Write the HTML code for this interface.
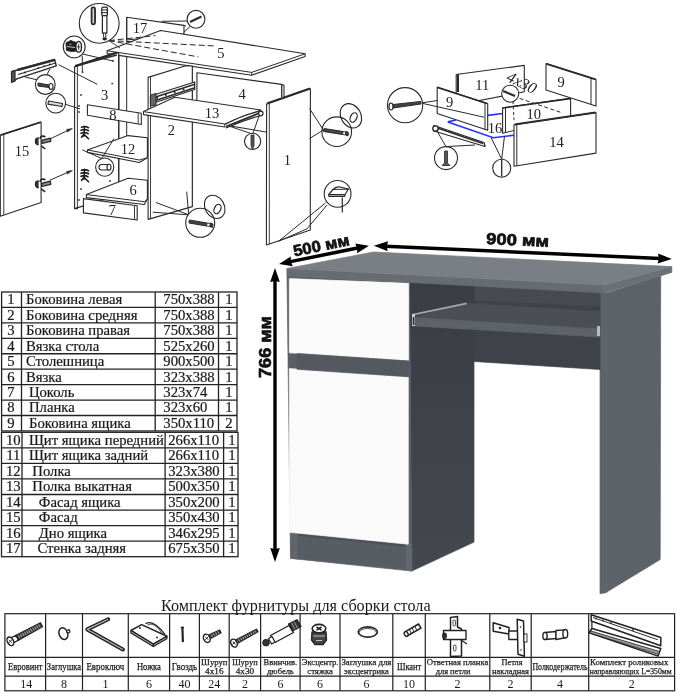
<!DOCTYPE html>
<html><head><meta charset="utf-8"><style>
html,body{margin:0;padding:0;background:#fff;width:689px;height:700px;overflow:hidden}
svg{position:absolute;left:0;top:0;display:block;will-change:transform}
</style></head><body>
<svg width="689" height="700" viewBox="0 0 689 700">
<defs><linearGradient id="gleg" x1="0" y1="0" x2="0" y2="1"><stop offset="0" stop-color="#3a3e44"/><stop offset="1" stop-color="#44484e"/></linearGradient></defs>
<rect width="689" height="700" fill="#fff"/>
<g font-family="Liberation Serif" font-size="14.7" fill="#1a1a1a" stroke="#1a1a1a" stroke-width="0.22">
<rect x="1.6" y="292" width="235.4" height="138.96000000000004" fill="none" stroke="#222" stroke-width="1.3"/>
<line x1="21.5" y1="292" x2="21.5" y2="430.96000000000004" stroke="#222" stroke-width="1.3"/>
<line x1="155.2" y1="292" x2="155.2" y2="430.96000000000004" stroke="#222" stroke-width="1.3"/>
<line x1="218.5" y1="292" x2="218.5" y2="430.96000000000004" stroke="#222" stroke-width="1.3"/>
<line x1="1.6" y1="307.44" x2="237" y2="307.44" stroke="#222" stroke-width="1.3"/>
<line x1="1.6" y1="322.88" x2="237" y2="322.88" stroke="#222" stroke-width="1.3"/>
<line x1="1.6" y1="338.32" x2="237" y2="338.32" stroke="#222" stroke-width="1.3"/>
<line x1="1.6" y1="353.76" x2="237" y2="353.76" stroke="#222" stroke-width="1.3"/>
<line x1="1.6" y1="369.20" x2="237" y2="369.20" stroke="#222" stroke-width="1.3"/>
<line x1="1.6" y1="384.64" x2="237" y2="384.64" stroke="#222" stroke-width="1.3"/>
<line x1="1.6" y1="400.08" x2="237" y2="400.08" stroke="#222" stroke-width="1.3"/>
<line x1="1.6" y1="415.52" x2="237" y2="415.52" stroke="#222" stroke-width="1.3"/>
<text x="10.8" y="304.3" text-anchor="middle">1</text>
<text x="26" y="304.3">Боковина левая</text>
<text x="163.3" y="304.3">750x388</text>
<text x="228.9" y="304.3" text-anchor="middle">1</text>
<text x="10.8" y="319.7" text-anchor="middle">2</text>
<text x="26" y="319.7">Боковина средняя</text>
<text x="163.3" y="319.7">750x388</text>
<text x="228.9" y="319.7" text-anchor="middle">1</text>
<text x="10.8" y="335.2" text-anchor="middle">3</text>
<text x="26" y="335.2">Боковина правая</text>
<text x="163.3" y="335.2">750x388</text>
<text x="228.9" y="335.2" text-anchor="middle">1</text>
<text x="10.8" y="350.6" text-anchor="middle">4</text>
<text x="26" y="350.6">Вязка стола</text>
<text x="163.3" y="350.6">525x260</text>
<text x="228.9" y="350.6" text-anchor="middle">1</text>
<text x="10.8" y="366.1" text-anchor="middle">5</text>
<text x="26" y="366.1">Столешница</text>
<text x="163.3" y="366.1">900x500</text>
<text x="228.9" y="366.1" text-anchor="middle">1</text>
<text x="10.8" y="381.5" text-anchor="middle">6</text>
<text x="26" y="381.5">Вязка</text>
<text x="163.3" y="381.5">323x388</text>
<text x="228.9" y="381.5" text-anchor="middle">1</text>
<text x="10.8" y="396.9" text-anchor="middle">7</text>
<text x="29" y="396.9">Цоколь</text>
<text x="163.3" y="396.9">323x74</text>
<text x="228.9" y="396.9" text-anchor="middle">1</text>
<text x="10.8" y="412.4" text-anchor="middle">8</text>
<text x="29" y="412.4">Планка</text>
<text x="163.3" y="412.4">323x60</text>
<text x="228.9" y="412.4" text-anchor="middle">1</text>
<text x="10.8" y="427.8" text-anchor="middle">9</text>
<text x="29" y="427.8">Боковина ящика</text>
<text x="163.3" y="427.8">350x110</text>
<text x="228.9" y="427.8" text-anchor="middle">2</text>
<rect x="1.5" y="432.3" width="236.5" height="124.40000000000003" fill="none" stroke="#222" stroke-width="1.3"/>
<line x1="22" y1="432.3" x2="22" y2="556.7" stroke="#222" stroke-width="1.3"/>
<line x1="165.1" y1="432.3" x2="165.1" y2="556.7" stroke="#222" stroke-width="1.3"/>
<line x1="223.6" y1="432.3" x2="223.6" y2="556.7" stroke="#222" stroke-width="1.3"/>
<line x1="1.5" y1="447.85" x2="238" y2="447.85" stroke="#222" stroke-width="1.3"/>
<line x1="1.5" y1="463.40" x2="238" y2="463.40" stroke="#222" stroke-width="1.3"/>
<line x1="1.5" y1="478.95" x2="238" y2="478.95" stroke="#222" stroke-width="1.3"/>
<line x1="1.5" y1="494.50" x2="238" y2="494.50" stroke="#222" stroke-width="1.3"/>
<line x1="1.5" y1="510.05" x2="238" y2="510.05" stroke="#222" stroke-width="1.3"/>
<line x1="1.5" y1="525.60" x2="238" y2="525.60" stroke="#222" stroke-width="1.3"/>
<line x1="1.5" y1="541.15" x2="238" y2="541.15" stroke="#222" stroke-width="1.3"/>
<text x="13.3" y="444.6" text-anchor="middle">10</text>
<text x="29" y="444.6">Щит ящика передний</text>
<text x="168.2" y="444.6">266x110</text>
<text x="232.0" y="444.6" text-anchor="middle">1</text>
<text x="13.3" y="460.2" text-anchor="middle">11</text>
<text x="29" y="460.2">Щит ящика задний</text>
<text x="168.2" y="460.2">266x110</text>
<text x="232.0" y="460.2" text-anchor="middle">1</text>
<text x="13.3" y="475.7" text-anchor="middle">12</text>
<text x="32.3" y="475.7">Полка</text>
<text x="168.2" y="475.7">323x380</text>
<text x="232.0" y="475.7" text-anchor="middle">1</text>
<text x="13.3" y="491.3" text-anchor="middle">13</text>
<text x="32.3" y="491.3">Полка выкатная</text>
<text x="168.2" y="491.3">500x350</text>
<text x="232.0" y="491.3" text-anchor="middle">1</text>
<text x="13.3" y="506.8" text-anchor="middle">14</text>
<text x="38.8" y="506.8">Фасад ящика</text>
<text x="168.2" y="506.8">350x200</text>
<text x="232.0" y="506.8" text-anchor="middle">1</text>
<text x="13.3" y="522.4" text-anchor="middle">15</text>
<text x="38.8" y="522.4">Фасад</text>
<text x="168.2" y="522.4">350x430</text>
<text x="232.0" y="522.4" text-anchor="middle">1</text>
<text x="13.3" y="537.9" text-anchor="middle">16</text>
<text x="38.8" y="537.9">Дно ящика</text>
<text x="168.2" y="537.9">346x295</text>
<text x="232.0" y="537.9" text-anchor="middle">1</text>
<text x="13.3" y="553.4" text-anchor="middle">17</text>
<text x="37.4" y="553.4">Стенка задняя</text>
<text x="168.2" y="553.4">675x350</text>
<text x="232.0" y="553.4" text-anchor="middle">1</text>
</g>
<g stroke="#222" stroke-width="1.2" fill="none">
<rect x="4.9" y="613.7" width="669.7" height="77.09999999999991"/>
<line x1="45.6" y1="613.7" x2="45.6" y2="690.8"/>
<line x1="82.5" y1="613.7" x2="82.5" y2="690.8"/>
<line x1="128.3" y1="613.7" x2="128.3" y2="690.8"/>
<line x1="169.6" y1="613.7" x2="169.6" y2="690.8"/>
<line x1="199.4" y1="613.7" x2="199.4" y2="690.8"/>
<line x1="229.2" y1="613.7" x2="229.2" y2="690.8"/>
<line x1="260.6" y1="613.7" x2="260.6" y2="690.8"/>
<line x1="300.1" y1="613.7" x2="300.1" y2="690.8"/>
<line x1="340" y1="613.7" x2="340" y2="690.8"/>
<line x1="392.8" y1="613.7" x2="392.8" y2="690.8"/>
<line x1="425.3" y1="613.7" x2="425.3" y2="690.8"/>
<line x1="489.8" y1="613.7" x2="489.8" y2="690.8"/>
<line x1="531.2" y1="613.7" x2="531.2" y2="690.8"/>
<line x1="588.7" y1="613.7" x2="588.7" y2="690.8"/>
<line x1="4.9" y1="657.3" x2="674.6" y2="657.3"/>
<line x1="4.9" y1="676.2" x2="674.6" y2="676.2"/>
</g>
<g font-family="Liberation Serif" fill="#1a1a1a">
<text x="25.2" y="670.2" font-size="10" text-anchor="middle" stroke="#1a1a1a" stroke-width="0.25" textLength="34.5" lengthAdjust="spacingAndGlyphs">Евровинт</text>
<text x="26.2" y="687.6" font-size="12" text-anchor="middle">14</text>
<text x="64.0" y="670.2" font-size="10" text-anchor="middle" stroke="#1a1a1a" stroke-width="0.25" textLength="34.3" lengthAdjust="spacingAndGlyphs">Заглушка</text>
<text x="64.0" y="687.6" font-size="12" text-anchor="middle">8</text>
<text x="105.4" y="670.2" font-size="10" text-anchor="middle" stroke="#1a1a1a" stroke-width="0.25" textLength="37.9" lengthAdjust="spacingAndGlyphs">Евроключ</text>
<text x="105.4" y="687.6" font-size="12" text-anchor="middle">1</text>
<text x="148.9" y="670.2" font-size="10" text-anchor="middle" stroke="#1a1a1a" stroke-width="0.25" textLength="24" lengthAdjust="spacingAndGlyphs">Ножка</text>
<text x="148.9" y="687.6" font-size="12" text-anchor="middle">6</text>
<text x="184.5" y="670.2" font-size="10" text-anchor="middle" stroke="#1a1a1a" stroke-width="0.25" textLength="25.4" lengthAdjust="spacingAndGlyphs">Гвоздь</text>
<text x="184.5" y="687.6" font-size="12" text-anchor="middle">40</text>
<text x="214.3" y="665.2" font-size="9.2" text-anchor="middle" stroke="#1a1a1a" stroke-width="0.25" textLength="26.4" lengthAdjust="spacingAndGlyphs">Шуруп</text>
<text x="214.3" y="674.3" font-size="9.2" text-anchor="middle" stroke="#1a1a1a" stroke-width="0.25">4х16</text>
<text x="214.3" y="687.6" font-size="12" text-anchor="middle">24</text>
<text x="244.9" y="665.2" font-size="9.2" text-anchor="middle" stroke="#1a1a1a" stroke-width="0.25" textLength="25.5" lengthAdjust="spacingAndGlyphs">Шуруп</text>
<text x="244.9" y="674.3" font-size="9.2" text-anchor="middle" stroke="#1a1a1a" stroke-width="0.25">4х30</text>
<text x="244.9" y="687.6" font-size="12" text-anchor="middle">2</text>
<text x="280.4" y="665.2" font-size="9.2" text-anchor="middle" stroke="#1a1a1a" stroke-width="0.25" textLength="33.6" lengthAdjust="spacingAndGlyphs">Ввинчив.</text>
<text x="280.4" y="674.3" font-size="9.2" text-anchor="middle" stroke="#1a1a1a" stroke-width="0.25" textLength="26.7" lengthAdjust="spacingAndGlyphs">дюбель</text>
<text x="280.4" y="687.6" font-size="12" text-anchor="middle">6</text>
<text x="320.1" y="665.2" font-size="9.2" text-anchor="middle" stroke="#1a1a1a" stroke-width="0.25" textLength="36.7" lengthAdjust="spacingAndGlyphs">Эксцентр.</text>
<text x="320.1" y="674.3" font-size="9.2" text-anchor="middle" stroke="#1a1a1a" stroke-width="0.25" textLength="25.6" lengthAdjust="spacingAndGlyphs">стяжка</text>
<text x="320.1" y="687.6" font-size="12" text-anchor="middle">6</text>
<text x="366.4" y="665.2" font-size="9.2" text-anchor="middle" stroke="#1a1a1a" stroke-width="0.25" textLength="50" lengthAdjust="spacingAndGlyphs">Заглушка для</text>
<text x="366.4" y="674.3" font-size="9.2" text-anchor="middle" stroke="#1a1a1a" stroke-width="0.25" textLength="44.7" lengthAdjust="spacingAndGlyphs">эксцентрика</text>
<text x="366.4" y="687.6" font-size="12" text-anchor="middle">6</text>
<text x="409.1" y="670.2" font-size="10" text-anchor="middle" stroke="#1a1a1a" stroke-width="0.25" textLength="24.4" lengthAdjust="spacingAndGlyphs">Шкант</text>
<text x="409.1" y="687.6" font-size="12" text-anchor="middle">10</text>
<text x="457.6" y="665.2" font-size="9.2" text-anchor="middle" stroke="#1a1a1a" stroke-width="0.25" textLength="61.6" lengthAdjust="spacingAndGlyphs">Ответная планка</text>
<text x="453.1" y="674.3" font-size="9.2" text-anchor="middle" stroke="#1a1a1a" stroke-width="0.25" textLength="34.9" lengthAdjust="spacingAndGlyphs">для петли</text>
<text x="457.6" y="687.6" font-size="12" text-anchor="middle">2</text>
<text x="512.0" y="665.2" font-size="9.2" text-anchor="middle" stroke="#1a1a1a" stroke-width="0.25" textLength="21" lengthAdjust="spacingAndGlyphs">Петля</text>
<text x="510.5" y="674.3" font-size="9.2" text-anchor="middle" stroke="#1a1a1a" stroke-width="0.25" textLength="37.1" lengthAdjust="spacingAndGlyphs">накладная</text>
<text x="510.5" y="687.6" font-size="12" text-anchor="middle">2</text>
<text x="560.0" y="670.2" font-size="10" text-anchor="middle" stroke="#1a1a1a" stroke-width="0.25" textLength="55.2" lengthAdjust="spacingAndGlyphs">Полкодержатель</text>
<text x="560.0" y="687.6" font-size="12" text-anchor="middle">4</text>
<text x="629.2" y="665.2" font-size="9.2" text-anchor="middle" stroke="#1a1a1a" stroke-width="0.25" textLength="78.3" lengthAdjust="spacingAndGlyphs">Комплект роликовых</text>
<text x="630.7" y="674.3" font-size="9.2" text-anchor="middle" stroke="#1a1a1a" stroke-width="0.25" textLength="81.8" lengthAdjust="spacingAndGlyphs">направляющих L=350мм</text>
<text x="631.7" y="687.6" font-size="12" text-anchor="middle">2</text>
<text x="160.9" y="610.7" font-size="16.3" textLength="269.7" lengthAdjust="spacingAndGlyphs">Комплект фурнитуры для сборки стола</text>
</g>
<polygon points="11.7,643.7 18.5,640.1 16.0,635.2 9.1,638.9" fill="#fff" stroke="#222" stroke-width="1.22" stroke-linejoin="round"/>
<polygon points="18.5,640.1 42.5,626.7 40.5,622.9 16.0,635.2" fill="#3a3a3a" stroke="#222" stroke-width="1.22" stroke-linejoin="round"/>
<line x1="20.1" y1="638.2" x2="18.4" y2="635.0" stroke="#ccc" stroke-width="0.81" stroke-linecap="butt"/>
<line x1="22.1" y1="637.1" x2="20.4" y2="633.9" stroke="#ccc" stroke-width="0.81" stroke-linecap="butt"/>
<line x1="24.2" y1="636.1" x2="22.4" y2="632.8" stroke="#ccc" stroke-width="0.81" stroke-linecap="butt"/>
<line x1="26.2" y1="635.0" x2="24.5" y2="631.8" stroke="#ccc" stroke-width="0.81" stroke-linecap="butt"/>
<line x1="28.2" y1="633.9" x2="26.5" y2="630.7" stroke="#ccc" stroke-width="0.81" stroke-linecap="butt"/>
<line x1="30.2" y1="632.9" x2="28.5" y2="629.6" stroke="#ccc" stroke-width="0.81" stroke-linecap="butt"/>
<line x1="32.3" y1="631.8" x2="30.5" y2="628.5" stroke="#ccc" stroke-width="0.81" stroke-linecap="butt"/>
<line x1="34.3" y1="630.7" x2="32.6" y2="627.5" stroke="#ccc" stroke-width="0.81" stroke-linecap="butt"/>
<line x1="36.3" y1="629.6" x2="34.6" y2="626.4" stroke="#ccc" stroke-width="0.81" stroke-linecap="butt"/>
<line x1="38.3" y1="628.6" x2="36.6" y2="625.3" stroke="#ccc" stroke-width="0.81" stroke-linecap="butt"/>
<line x1="40.3" y1="627.5" x2="38.6" y2="624.3" stroke="#ccc" stroke-width="0.81" stroke-linecap="butt"/>
<ellipse cx="10.4" cy="641.3" rx="3" ry="4.6" transform="rotate(-27.94803514599848 10.4 641.3)" fill="#fff" stroke="#222" stroke-width="1.49"/>
<line x1="8.9" y1="639.8" x2="11.9" y2="642.8" stroke="#222" stroke-width="0.94" stroke-linecap="butt"/>
<line x1="8.9" y1="642.8" x2="11.9" y2="639.8" stroke="#222" stroke-width="0.94" stroke-linecap="butt"/>
<ellipse cx="63.4" cy="633.6" rx="4.3" ry="6" transform="rotate(-20 63.4 633.6)" fill="#fff" stroke="#222" stroke-width="1.49"/>
<polygon points="66.5,631.0 69.0,629.5 70.0,632.0 67.5,633.5" fill="#fff" stroke="#222" stroke-width="1.22" stroke-linejoin="round"/>
<polyline points="108.2,619.3 87.3,629.4 122.9,649.5" fill="none" stroke="#222" stroke-width="4" stroke-linejoin="round" stroke-linecap="round"/>
<polyline points="108.2,619.3 87.3,629.4 122.9,649.5" fill="none" stroke="#bbb" stroke-width="1.2" stroke-linejoin="round"/>
<polygon points="130.9,630.5 141.6,624.6 166.9,636.3 153.3,644.1" fill="#fff" stroke="#222" stroke-width="1.49" stroke-linejoin="round"/>
<polygon points="130.9,630.5 153.3,644.1 153.3,646.5 130.9,633.0" fill="#aaa" stroke="#222" stroke-width="1.22" stroke-linejoin="round"/>
<polygon points="153.3,644.1 166.9,636.3 166.9,638.7 153.3,646.5" fill="#aaa" stroke="#222" stroke-width="1.22" stroke-linejoin="round"/>
<path d="M145.5,623.7 Q153,619 165,634.4" fill="none" stroke="#222" stroke-width="1.3"/>
<path d="M147.5,625 Q154,621 162.5,634" fill="none" stroke="#222" stroke-width="0.8"/>
<circle cx="140" cy="628" r="0.9" fill="#222"/><circle cx="157" cy="637.5" r="0.9" fill="#222"/>
<line x1="182.4" y1="627.6" x2="182.9" y2="642.1" stroke="#222" stroke-width="2.16" stroke-linecap="butt"/>
<line x1="180.8" y1="627.5" x2="184.0" y2="627.5" stroke="#222" stroke-width="1.62" stroke-linecap="butt"/>
<polygon points="207.8,640.2 208.4,639.8 206.5,636.1 205.8,636.4" fill="#fff" stroke="#222" stroke-width="1.22" stroke-linejoin="round"/>
<polygon points="208.4,639.8 221.1,632.8 219.7,630.0 206.5,636.1" fill="#3a3a3a" stroke="#222" stroke-width="1.22" stroke-linejoin="round"/>
<line x1="210.3" y1="638.1" x2="209.0" y2="635.6" stroke="#ccc" stroke-width="0.81" stroke-linecap="butt"/>
<line x1="212.4" y1="637.0" x2="211.2" y2="634.5" stroke="#ccc" stroke-width="0.81" stroke-linecap="butt"/>
<line x1="214.6" y1="635.9" x2="213.3" y2="633.4" stroke="#ccc" stroke-width="0.81" stroke-linecap="butt"/>
<line x1="216.7" y1="634.8" x2="215.5" y2="632.3" stroke="#ccc" stroke-width="0.81" stroke-linecap="butt"/>
<line x1="218.9" y1="633.7" x2="217.6" y2="631.2" stroke="#ccc" stroke-width="0.81" stroke-linecap="butt"/>
<ellipse cx="206.8" cy="638.3" rx="3.2" ry="4.3" transform="rotate(-26.90109295154093 206.8 638.3)" fill="#fff" stroke="#222" stroke-width="1.49"/>
<line x1="205.3" y1="636.8" x2="208.3" y2="639.8" stroke="#222" stroke-width="0.94" stroke-linecap="butt"/>
<line x1="205.3" y1="639.8" x2="208.3" y2="636.8" stroke="#222" stroke-width="0.94" stroke-linecap="butt"/>
<polygon points="234.9,644.8 236.1,644.1 234.3,640.8 233.1,641.4" fill="#fff" stroke="#222" stroke-width="1.22" stroke-linejoin="round"/>
<polygon points="236.1,644.1 258.0,631.8 256.6,629.2 234.3,640.8" fill="#3a3a3a" stroke="#222" stroke-width="1.22" stroke-linejoin="round"/>
<line x1="237.8" y1="642.5" x2="236.6" y2="640.3" stroke="#ccc" stroke-width="0.81" stroke-linecap="butt"/>
<line x1="239.8" y1="641.4" x2="238.6" y2="639.2" stroke="#ccc" stroke-width="0.81" stroke-linecap="butt"/>
<line x1="241.8" y1="640.3" x2="240.6" y2="638.1" stroke="#ccc" stroke-width="0.81" stroke-linecap="butt"/>
<line x1="243.8" y1="639.2" x2="242.6" y2="637.0" stroke="#ccc" stroke-width="0.81" stroke-linecap="butt"/>
<line x1="245.8" y1="638.1" x2="244.6" y2="635.9" stroke="#ccc" stroke-width="0.81" stroke-linecap="butt"/>
<line x1="247.8" y1="637.1" x2="246.6" y2="634.8" stroke="#ccc" stroke-width="0.81" stroke-linecap="butt"/>
<line x1="249.9" y1="636.0" x2="248.6" y2="633.7" stroke="#ccc" stroke-width="0.81" stroke-linecap="butt"/>
<line x1="251.9" y1="634.9" x2="250.7" y2="632.7" stroke="#ccc" stroke-width="0.81" stroke-linecap="butt"/>
<line x1="253.9" y1="633.8" x2="252.7" y2="631.6" stroke="#ccc" stroke-width="0.81" stroke-linecap="butt"/>
<line x1="255.9" y1="632.7" x2="254.7" y2="630.5" stroke="#ccc" stroke-width="0.81" stroke-linecap="butt"/>
<ellipse cx="234" cy="643.1" rx="3.0" ry="4.2" transform="rotate(-28.40330499339588 234 643.1)" fill="#fff" stroke="#222" stroke-width="1.49"/>
<line x1="232.5" y1="641.6" x2="235.5" y2="644.6" stroke="#222" stroke-width="0.94" stroke-linecap="butt"/>
<line x1="232.5" y1="644.6" x2="235.5" y2="641.6" stroke="#222" stroke-width="0.94" stroke-linecap="butt"/>
<polygon points="270.5,635.5 289.0,625.5 293.5,632.5 275.0,642.5" fill="#fff" stroke="#222" stroke-width="1.35" stroke-linejoin="round"/>
<polygon points="288.5,624.0 297.0,619.8 301.0,626.5 292.5,631.0" fill="#333" stroke="#222" stroke-width="1.35" stroke-linejoin="round"/>
<line x1="291.6" y1="622.7" x2="295.1" y2="629.6" stroke="#bbb" stroke-width="0.81" stroke-linecap="butt"/>
<line x1="294.1" y1="621.5" x2="297.6" y2="628.3" stroke="#bbb" stroke-width="0.81" stroke-linecap="butt"/>
<polygon points="268.5,638.5 272.0,636.5 275.0,642.0 271.5,644.0" fill="#fff" stroke="#222" stroke-width="1.22" stroke-linejoin="round"/>
<circle cx="266" cy="642.7" r="3.3" fill="#333" stroke="#222" stroke-width="1"/>
<polygon points="312.0,632.0 326.0,632.0 326.5,640.0 323.0,644.5 315.0,644.5 311.5,640.0" fill="#444" stroke="#222" stroke-width="1.35" stroke-linejoin="round"/>
<line x1="313.0" y1="636.0" x2="325.0" y2="636.0" stroke="#ccc" stroke-width="0.94" stroke-linecap="butt"/>
<line x1="316.0" y1="640.5" x2="322.0" y2="640.5" stroke="#ccc" stroke-width="0.94" stroke-linecap="butt"/>
<ellipse cx="319" cy="628.6" rx="6.8" ry="4.2" transform="rotate(0 319 628.6)" fill="#fff" stroke="#222" stroke-width="1.62"/>
<line x1="316.5" y1="627.0" x2="321.5" y2="630.2" stroke="#222" stroke-width="1.49" stroke-linecap="butt"/>
<line x1="316.5" y1="630.2" x2="321.5" y2="627.0" stroke="#222" stroke-width="1.49" stroke-linecap="butt"/>
<ellipse cx="367.8" cy="632" rx="9.6" ry="5.1" transform="rotate(0 367.8 632)" fill="#fff" stroke="#222" stroke-width="1.62"/>
<ellipse cx="367.8" cy="632.6" rx="8.6" ry="4.1" transform="rotate(0 367.8 632.6)" fill="#fff" stroke="#222" stroke-width="0.81"/>
<polygon points="405.0,631.8 418.5,624.0 421.0,628.2 407.0,636.0" fill="#fff" stroke="#222" stroke-width="1.49" stroke-linejoin="round"/>
<ellipse cx="406.2" cy="634" rx="1.8" ry="2.5" transform="rotate(-30 406.2 634)" fill="#fff" stroke="#222" stroke-width="1.35"/>
<line x1="409.6" y1="629.5" x2="411.2" y2="633.7" stroke="#222" stroke-width="0.94" stroke-linecap="butt"/>
<line x1="412.2" y1="627.9" x2="414.0" y2="632.1" stroke="#222" stroke-width="0.94" stroke-linecap="butt"/>
<line x1="414.9" y1="626.3" x2="416.8" y2="630.5" stroke="#222" stroke-width="0.94" stroke-linecap="butt"/>
<polygon points="450.5,617.5 457.5,616.5 457.5,627.0 461.5,629.0 461.5,656.0 450.5,656.5" fill="#fff" stroke="#222" stroke-width="1.49" stroke-linejoin="round"/>
<polygon points="443.5,630.5 466.0,630.5 466.0,639.5 443.5,639.5" fill="#fff" stroke="#222" stroke-width="1.35" stroke-linejoin="round"/>
<rect x="453" y="620" width="2.5" height="6" rx="1.2" fill="#fff" stroke="#222" stroke-width="0.8"/>
<rect x="453.5" y="645" width="2.5" height="6" rx="1.2" fill="#fff" stroke="#222" stroke-width="0.8"/>
<ellipse cx="444.5" cy="635.8" rx="1.8" ry="2.6" transform="rotate(0 444.5 635.8)" fill="#333" stroke="#222" stroke-width="1.22"/>
<line x1="461.0" y1="640.0" x2="467.0" y2="644.0" stroke="#222" stroke-width="1.22" stroke-linecap="butt"/>
<polygon points="493.2,622.8 509.0,627.5 509.0,634.0 493.2,631.2" fill="#fff" stroke="#222" stroke-width="1.49" stroke-linejoin="round"/>
<polygon points="508.8,631.0 518.4,631.0 518.4,639.5 508.8,639.5" fill="#fff" stroke="#222" stroke-width="1.35" stroke-linejoin="round"/>
<polygon points="517.2,619.2 523.5,621.0 524.4,656.3 518.0,654.3" fill="#fff" stroke="#222" stroke-width="1.49" stroke-linejoin="round"/>
<rect x="524" y="634" width="3" height="8" fill="#fff" stroke="#222" stroke-width="0.9"/>
<circle cx="500" cy="628" r="1.3" fill="#222"/><circle cx="520.5" cy="627" r="0.8" fill="#222"/><circle cx="521" cy="650" r="0.8" fill="#222"/>
<polygon points="545.0,632.5 556.0,631.5 556.0,638.5 545.0,639.5" fill="#fff" stroke="#222" stroke-width="1.35" stroke-linejoin="round"/>
<ellipse cx="545" cy="636" rx="2.2" ry="3.6" transform="rotate(0 545 636)" fill="#fff" stroke="#222" stroke-width="1.35"/>
<polygon points="556.0,630.5 565.0,629.8 566.5,637.5 556.0,639.5" fill="#fff" stroke="#222" stroke-width="1.35" stroke-linejoin="round"/>
<ellipse cx="565.3" cy="633.7" rx="2.4" ry="4.2" transform="rotate(0 565.3 633.7)" fill="#fff" stroke="#222" stroke-width="1.35"/>
<polygon points="591.2,614.8 652.6,634.8 660.8,637.5 660.8,645.8 591.2,621.0" fill="#fff" stroke="#222" stroke-width="1.49" stroke-linejoin="round"/>
<line x1="593.0" y1="617.5" x2="658.0" y2="639.8" stroke="#222" stroke-width="0.94" stroke-linecap="butt"/>
<circle cx="596" cy="618.5" r="0.9" fill="#333"/>
<circle cx="603" cy="620.5" r="0.9" fill="#333"/>
<circle cx="611" cy="623" r="0.9" fill="#333"/>
<circle cx="633" cy="630" r="0.9" fill="#333"/>
<polygon points="591.9,628.5 660.8,648.5 658.1,656.1 589.1,632.7" fill="#fff" stroke="#222" stroke-width="1.49" stroke-linejoin="round"/>
<polygon points="591.0,631.0 659.5,651.5 658.5,654.5 590.0,633.0" fill="#999" stroke="#222" stroke-width="0.81" stroke-linejoin="round"/>
<line x1="591.9" y1="628.5" x2="591.9" y2="621.0" stroke="#222" stroke-width="1.22" stroke-linecap="butt"/>
<polygon points="606.8,293 660.7,275.5 660.2,559.6 606.8,592" fill="#5d6168" stroke="#5d6168" stroke-width="0.7" stroke-linejoin="round" />
<polygon points="600,292.5 606.8,293 606.8,592.5 600,593.8" fill="#5f646b" stroke="#5f646b" stroke-width="0.7" stroke-linejoin="round" />
<polygon points="471,285 600,291 600,369.5 474,361.5" fill="#3f4349" stroke="#3f4349" stroke-width="0.7" stroke-linejoin="round" />
<polygon points="471,285 600,291 600,306 471,300" fill="#474b51" stroke="#474b51" stroke-width="0.7" stroke-linejoin="round" />
<polygon points="409.5,282 474,285.5 474,542.1 411.8,571.1" fill="url(#gleg)" stroke="url(#gleg)" stroke-width="0.7" stroke-linejoin="round" />
<polygon points="412.8,317.5 466.8,303.3 600,311.5 600,329" fill="#4b4f55" stroke="#4b4f55" stroke-width="0.7" stroke-linejoin="round" />
<polygon points="412.8,317.5 600,329 600,337 412.8,325.9" fill="#5e6369" stroke="#5e6369" stroke-width="0.7" stroke-linejoin="round" />
<line x1="413" y1="314.6" x2="466.8" y2="303.3" stroke="#a3a7ab" stroke-width="1.8"/>
<rect x="412" y="314" width="3" height="12" fill="#c9cccf"/>
<rect x="412.8" y="317" width="1.6" height="8" fill="#2a2d31"/>
<rect x="597" y="326" width="3" height="10" fill="#b9bcbf"/>
<polygon points="287,275.8 409.5,282.5 411.8,571.1 290.5,558.4" fill="#5a5f66" stroke="#5a5f66" stroke-width="0.7" stroke-linejoin="round" />
<polygon points="291,532.5 298.2,533.3 298.2,558.8 291,558.3" fill="#60656c" stroke="#60656c" stroke-width="0.7" stroke-linejoin="round" />
<polygon points="298.2,533.5 406,544.5 406,568 298.2,557.5" fill="#585d64" stroke="#585d64" stroke-width="0.7" stroke-linejoin="round" />
<polygon points="298.2,533.5 406,544.5 406,546.5 298.2,535.5" fill="#4c5057" stroke="#4c5057" stroke-width="0.7" stroke-linejoin="round" />
<polygon points="406,544 411.8,544.5 411.8,571.1 406,568.2" fill="#62676e" stroke="#62676e" stroke-width="0.7" stroke-linejoin="round" />
<polygon points="289.3,278.6 408.6,283.3 408.6,360.5 289.3,352.8" fill="#fafafa" stroke="#fafafa" stroke-width="0.7" stroke-linejoin="round" />
<polygon points="289.3,368.6 408.3,377 408.3,544.2 289.3,532.3" fill="#fafafa" stroke="#fafafa" stroke-width="0.7" stroke-linejoin="round" />
<polygon points="297,353.5 409,361 409,376.8 297,369.3" fill="#54585f" stroke="#54585f" stroke-width="0.7" stroke-linejoin="round" />
<polygon points="286.9,268.5 604.5,285 604.5,293 286.9,275.8" fill="#676c73" stroke="#676c73" stroke-width="0.7" stroke-linejoin="round" />
<polygon points="604.5,285 671.8,266.6 671.8,272.4 604.5,293" fill="#6b7077" stroke="#6b7077" stroke-width="0.7" stroke-linejoin="round" />
<polygon points="286.9,268.5 373.5,252 671.8,266.6 604.5,285" fill="#7a7e85" stroke="#7a7e85" stroke-width="0.7" stroke-linejoin="round" />
<polygon points="126.7,17.3 184.0,25.4 184.0,34.0 126.7,40.0" fill="#fff" stroke="#2a2a2a" stroke-width="1.1" stroke-linejoin="round" />
<line x1="126.7" y1="17.3" x2="126.7" y2="136.0" stroke="#2a2a2a" stroke-width="1.0" />
<line x1="184.0" y1="25.4" x2="186.0" y2="26.0" stroke="#2a2a2a" stroke-width="1.0" />
<line x1="118.9" y1="54.0" x2="118.9" y2="181.0" stroke="#2a2a2a" stroke-width="1.0" />
<line x1="192.3" y1="66.0" x2="192.3" y2="207.0" stroke="#2a2a2a" stroke-width="1.0" />
<polygon points="107.1,50.8 160.6,30.5 305.1,53.8 305.1,56.6 251.7,75.2 107.1,53.6" fill="#fff" stroke="#2a2a2a" stroke-width="1.1" stroke-linejoin="round" />
<line x1="107.1" y1="50.8" x2="251.7" y2="72.4" stroke="#2a2a2a" stroke-width="1.0" />
<line x1="251.7" y1="72.4" x2="305.1" y2="53.8" stroke="#2a2a2a" stroke-width="1.0" />
<line x1="251.7" y1="72.4" x2="251.7" y2="75.2" stroke="#2a2a2a" stroke-width="1.0" />
<line x1="108.8" y1="40.6" x2="155.5" y2="35.6" stroke="#2a2a2a" stroke-width="1.0" stroke-dasharray="6,3"/>
<line x1="108.8" y1="40.6" x2="215.7" y2="46.0" stroke="#2a2a2a" stroke-width="1.0" stroke-dasharray="6,3"/>
<line x1="108.8" y1="40.6" x2="198.3" y2="56.9" stroke="#2a2a2a" stroke-width="1.0" stroke-dasharray="6,3"/>
<line x1="108.0" y1="40.0" x2="120.0" y2="48.0" stroke="#2a2a2a" stroke-width="0.9" />
<polygon points="196.9,72.8 281.7,84.4 284.0,85.2 284.0,135.0 196.9,120.4" fill="#fff" stroke="#2a2a2a" stroke-width="1.1" stroke-linejoin="round" />
<line x1="281.7" y1="84.4" x2="281.7" y2="97.0" stroke="#2a2a2a" stroke-width="1.3" />
<polygon points="74.6,67.0 112.2,54.0 118.6,54.0 118.6,120.0 77.4,208.6 74.6,208.6" fill="#fff" stroke="#2a2a2a" stroke-width="1.1" stroke-linejoin="round" />
<polygon points="74.6,67.0 118.6,52.5 118.6,195.0 74.6,208.6" fill="#fff" stroke="#2a2a2a" stroke-width="1.1" stroke-linejoin="round" />
<line x1="77.4" y1="66.0" x2="77.4" y2="208.6" stroke="#2a2a2a" stroke-width="0.9" />
<line x1="75.2" y1="66.0" x2="117.0" y2="52.5" stroke="#2a2a2a" stroke-width="2.2" />
<circle cx="113" cy="61" r="0.9" fill="#333"/>
<circle cx="82.6" cy="72.2" r="0.9" fill="#333"/>
<circle cx="112.2" cy="83.6" r="0.9" fill="#333"/>
<circle cx="81" cy="95" r="0.9" fill="#333"/>
<circle cx="79" cy="106" r="0.9" fill="#333"/>
<circle cx="79" cy="112" r="0.9" fill="#333"/>
<circle cx="81" cy="189" r="0.9" fill="#333"/>
<circle cx="110" cy="181" r="0.9" fill="#333"/>
<circle cx="79" cy="200" r="0.9" fill="#333"/>
<path d="M81.5,127.19999999999999 Q85,125.69999999999999 88.5,127.69999999999999 M81,130.2 Q85,128.7 88.5,130.7 M81,133.2 Q85,131.7 88,133.7 M84.5,126.19999999999999 L84,136.2 M84,134.2 L88.5,138.7 M84,134.2 L81.5,137.2" fill="none" stroke="#1a1a1a" stroke-width="1.6" stroke-linecap="round"/>
<path d="M81.5,170.3 Q85,168.8 88.5,170.8 M81,173.3 Q85,171.8 88.5,173.8 M81,176.3 Q85,174.8 88,176.8 M84.5,169.3 L84,179.3 M84,177.3 L88.5,181.8 M84,177.3 L81.5,180.3" fill="none" stroke="#1a1a1a" stroke-width="1.6" stroke-linecap="round"/>
<polygon points="148.1,77.4 185.0,66.0 192.3,66.0 192.3,206.6 148.1,219.4" fill="#fff" stroke="#2a2a2a" stroke-width="1.1" stroke-linejoin="round" />
<line x1="150.5" y1="77.0" x2="150.5" y2="219.0" stroke="#2a2a2a" stroke-width="0.9" />
<polygon points="150.5,96.0 194.6,82.0 194.6,89.5 150.5,104.0" fill="#fff" stroke="#2a2a2a" stroke-width="1.3" stroke-linejoin="round" />
<line x1="151.0" y1="98.5" x2="194.0" y2="84.5" stroke="#2a2a2a" stroke-width="1.6" />
<line x1="151.0" y1="102.0" x2="194.0" y2="88.0" stroke="#2a2a2a" stroke-width="1.4" />
<circle cx="157.1" cy="97.9" r="1" fill="#222"/>
<circle cx="165.9" cy="95.1" r="1" fill="#222"/>
<circle cx="174.7" cy="92.3" r="1" fill="#222"/>
<circle cx="183.5" cy="89.5" r="1" fill="#222"/>
<polygon points="150.5,95.0 156.0,93.5 156.0,105.0 150.5,106.0" fill="#666" stroke="#2a2a2a" stroke-width="1.0" stroke-linejoin="round" />
<polygon points="143.5,111.6 174.8,97.2 260.8,110.0 260.8,113.0 224.8,127.0 143.5,114.6" fill="#fff" stroke="#2a2a2a" stroke-width="1.1" stroke-linejoin="round" />
<line x1="143.5" y1="111.6" x2="224.8" y2="124.0" stroke="#2a2a2a" stroke-width="1.0" />
<line x1="224.8" y1="124.0" x2="260.8" y2="110.0" stroke="#2a2a2a" stroke-width="1.0" />
<line x1="224.8" y1="124.0" x2="224.8" y2="127.0" stroke="#2a2a2a" stroke-width="1.0" />
<path d="M224.8,124.5 Q243,115 259,111.5 L261,115.5 Q244,120 226,128" fill="#fff" stroke="#222" stroke-width="1.2"/>
<line x1="226.0" y1="126.5" x2="259.5" y2="113.0" stroke="#2a2a2a" stroke-width="1.8" />
<circle cx="260.8" cy="113.4" r="2.2" fill="#fff" stroke="#2a2a2a" stroke-width="1.2"/>
<polygon points="266.6,104.1 310.4,88.7 310.3,230.0 266.4,244.9" fill="#fff" stroke="#2a2a2a" stroke-width="1.1" stroke-linejoin="round" />
<line x1="269.3" y1="103.2" x2="269.3" y2="244.0" stroke="#2a2a2a" stroke-width="0.9" />
<line x1="267.0" y1="103.5" x2="310.0" y2="88.5" stroke="#2a2a2a" stroke-width="2.0" />
<polygon points="87.4,104.8 141.3,113.3 141.3,124.5 87.4,115.3" fill="#fff" stroke="#2a2a2a" stroke-width="1.1" stroke-linejoin="round" />
<line x1="138.2" y1="112.8" x2="138.2" y2="124.0" stroke="#2a2a2a" stroke-width="0.9" />
<polygon points="87.4,149.9 128.1,135.6 147.4,137.7 147.4,157.8 139.3,162.5 87.4,152.4" fill="#fff" stroke="#2a2a2a" stroke-width="1.1" stroke-linejoin="round" />
<line x1="87.4" y1="149.9" x2="139.3" y2="160.0" stroke="#2a2a2a" stroke-width="1.0" />
<line x1="139.3" y1="160.0" x2="147.4" y2="157.8" stroke="#2a2a2a" stroke-width="1.0" />
<polygon points="86.4,194.6 128.1,178.3 147.4,180.3 147.4,199.0 144.3,204.5 86.4,197.6" fill="#fff" stroke="#2a2a2a" stroke-width="1.1" stroke-linejoin="round" />
<line x1="86.4" y1="194.6" x2="144.3" y2="201.7" stroke="#2a2a2a" stroke-width="1.0" />
<line x1="144.3" y1="201.7" x2="147.4" y2="199.0" stroke="#2a2a2a" stroke-width="1.0" />
<polygon points="83.4,198.6 137.2,205.7 137.2,220.0 83.4,212.9" fill="#fff" stroke="#2a2a2a" stroke-width="1.1" stroke-linejoin="round" />
<line x1="134.5" y1="205.3" x2="134.5" y2="219.6" stroke="#2a2a2a" stroke-width="0.9" />
<polygon points="0.3,135.4 41.1,122.3 41.1,202.6 0.3,216.3" fill="#fff" stroke="#2a2a2a" stroke-width="1.1" stroke-linejoin="round" />
<line x1="3.8" y1="134.3" x2="3.8" y2="215.2" stroke="#2a2a2a" stroke-width="0.9" />
<line x1="0.5" y1="135.0" x2="41.0" y2="122.0" stroke="#2a2a2a" stroke-width="1.8" />
<path d="M38.6,137.8 A3.2,3.5 0 0,0 38.6,144.8" fill="#333" stroke="#222" stroke-width="1.2"/>
<path d="M45.5,136.70000000000002 Q40.5,134.8 40,138.8" fill="none" stroke="#222" stroke-width="1.6"/>
<polygon points="41.5,140.3 50.3,138.1 50.8,141.3 42.0,143.3" fill="#888" stroke="#2a2a2a" stroke-width="1.3" stroke-linejoin="round" />
<line x1="41.2" y1="145.8" x2="45.2" y2="148.8" stroke="#2a2a2a" stroke-width="1.6" />
<path d="M38.6,180.8 A3.2,3.5 0 0,0 38.6,187.8" fill="#333" stroke="#222" stroke-width="1.2"/>
<path d="M45.5,179.70000000000002 Q40.5,177.8 40,181.8" fill="none" stroke="#222" stroke-width="1.6"/>
<polygon points="41.5,183.3 50.3,181.1 50.8,184.3 42.0,186.3" fill="#888" stroke="#2a2a2a" stroke-width="1.3" stroke-linejoin="round" />
<line x1="41.2" y1="188.8" x2="45.2" y2="191.8" stroke="#2a2a2a" stroke-width="1.6" />
<line x1="49.7" y1="139.1" x2="71.1" y2="128.9" stroke="#2a2a2a" stroke-width="1.0" />
<polygon points="72.5,128.4 66.5,129.4 67.5,132.1" fill="#222" stroke="#2a2a2a" stroke-width="0.5" stroke-linejoin="round" />
<line x1="49.7" y1="180.3" x2="71.1" y2="170.9" stroke="#2a2a2a" stroke-width="1.0" />
<polygon points="72.5,170.4 66.5,171.4 67.5,174.1" fill="#222" stroke="#2a2a2a" stroke-width="0.5" stroke-linejoin="round" />
<polygon points="11.6,71.7 17.4,70.0 54.6,59.5 56.3,65.9 17.4,78.7 11.6,82.2" fill="#fff" stroke="#2a2a2a" stroke-width="1.4" stroke-linejoin="round" />
<line x1="17.4" y1="70.0" x2="55.0" y2="59.8" stroke="#2a2a2a" stroke-width="2.4" />
<line x1="18.0" y1="74.5" x2="55.5" y2="63.0" stroke="#2a2a2a" stroke-width="1.2" />
<polygon points="11.6,71.7 15.0,70.7 15.0,81.2 11.6,82.2" fill="#555" stroke="#2a2a2a" stroke-width="1.2" stroke-linejoin="round" />
<circle cx="25.0" cy="72.5" r="0.9" fill="#222"/>
<circle cx="38.3" cy="68.1" r="0.9" fill="#222"/>
<circle cx="44.0" cy="66.2" r="0.9" fill="#222"/>
<circle cx="49.7" cy="64.4" r="0.9" fill="#222"/>
<line x1="58.6" y1="64.7" x2="97.4" y2="84.4" stroke="#2a2a2a" stroke-width="1.0" />
<line x1="23.2" y1="76.4" x2="36.6" y2="79.8" stroke="#2a2a2a" stroke-width="1.0" />
<line x1="50.0" y1="68.8" x2="47.0" y2="74.6" stroke="#2a2a2a" stroke-width="1.0" />
<line x1="65.0" y1="104.2" x2="80.0" y2="108.9" stroke="#2a2a2a" stroke-width="1.0" />
<line x1="82.3" y1="55.7" x2="82.3" y2="72.2" stroke="#2a2a2a" stroke-width="1.0" />
<line x1="82.6" y1="54.0" x2="113.0" y2="61.0" stroke="#2a2a2a" stroke-width="1.0" />
<line x1="75.2" y1="66.0" x2="116.9" y2="54.9" stroke="#2a2a2a" stroke-width="1.6" />
<circle cx="99.2" cy="23.4" r="19.9" fill="#fff" stroke="#2a2a2a" stroke-width="1.1"/>
<rect x="91.3" y="7.1" width="4" height="17.5" rx="1.8" fill="#555" stroke="#222" stroke-width="1.2"/>
<rect x="92.6" y="8.5" width="1.3" height="14.5" fill="#ddd"/>
<rect x="101.8" y="7.2" width="5.6" height="8.5" rx="1.5" fill="#fff" stroke="#222" stroke-width="1.3"/>
<line x1="101.8" y1="9.9" x2="107.4" y2="9.9" stroke="#2a2a2a" stroke-width="1.0" />
<line x1="101.8" y1="12.7" x2="107.4" y2="12.7" stroke="#2a2a2a" stroke-width="1.0" />
<rect x="102.4" y="15.7" width="4.5" height="17.3" fill="#fff" stroke="#222" stroke-width="1.2"/>
<line x1="103.6" y1="33.0" x2="103.6" y2="37.5" stroke="#2a2a2a" stroke-width="1.0" />
<line x1="105.8" y1="33.0" x2="105.8" y2="37.5" stroke="#2a2a2a" stroke-width="1.0" />
<ellipse cx="104.7" cy="38.8" rx="2.3" ry="1.6" fill="#222"/>
<circle cx="74.2" cy="46.9" r="10.9" fill="#fff" stroke="#2a2a2a" stroke-width="1.1"/>
<polygon points="66.0,43.0 68.5,41.5 71.0,40.5 73.0,41.5 76.5,42.5 76.5,51.0 72.0,51.5 66.5,50.5" fill="#1e1e1e" stroke="#2a2a2a" stroke-width="1.0" stroke-linejoin="round" />
<line x1="67.0" y1="46.5" x2="75.0" y2="47.5" stroke="#ddd" stroke-width="0.9" />
<line x1="69.0" y1="44.0" x2="71.5" y2="44.5" stroke="#bbb" stroke-width="0.8" />
<ellipse cx="78.7" cy="46.9" rx="2.8" ry="5.3" fill="#fff" stroke="#1e1e1e" stroke-width="1.3"/>
<line x1="78.7" y1="43.8" x2="78.7" y2="50.0" stroke="#2a2a2a" stroke-width="0.9" />
<line x1="77.0" y1="46.9" x2="80.4" y2="46.9" stroke="#2a2a2a" stroke-width="0.9" />
<circle cx="45.3" cy="84.5" r="9.9" fill="#fff" stroke="#2a2a2a" stroke-width="1.1"/>
<polygon points="38.0,83.0 49.0,85.0 49.0,87.5 38.0,86.0" fill="#444" stroke="#2a2a2a" stroke-width="1.0" stroke-linejoin="round" />
<ellipse cx="51" cy="86.5" rx="2" ry="3" fill="#fff" stroke="#222" stroke-width="1.1"/>
<circle cx="55.7" cy="103.1" r="9.9" fill="#fff" stroke="#2a2a2a" stroke-width="1.1"/>
<polygon points="48.5,101.0 62.5,103.5 62.0,106.5 48.0,104.2" fill="#ddd" stroke="#2a2a2a" stroke-width="1.2" stroke-linejoin="round" />
<circle cx="104.7" cy="167.1" r="9.1" fill="#fff" stroke="#2a2a2a" stroke-width="1.1"/>
<rect x="99" y="164.5" width="10" height="5.5" rx="2.5" fill="#fff" stroke="#222" stroke-width="1.1"/>
<ellipse cx="109" cy="167.2" rx="2" ry="3" fill="#fff" stroke="#222" stroke-width="1.1"/>
<line x1="82.4" y1="149.9" x2="101.7" y2="158.5" stroke="#2a2a2a" stroke-width="1.0" />
<line x1="113.9" y1="138.7" x2="101.7" y2="158.5" stroke="#2a2a2a" stroke-width="1.0" />
<circle cx="252.6" cy="141.3" r="8.1" fill="#fff" stroke="#2a2a2a" stroke-width="1.1"/>
<polygon points="251.0,135.0 254.0,135.0 254.0,146.0 252.5,149.0 251.0,146.0" fill="#555" stroke="#2a2a2a" stroke-width="0.8" stroke-linejoin="round" />
<line x1="229.4" y1="126.2" x2="251.0" y2="133.5" stroke="#2a2a2a" stroke-width="1.0" />
<line x1="259.0" y1="116.0" x2="253.0" y2="133.3" stroke="#2a2a2a" stroke-width="1.0" />
<circle cx="196" cy="19.3" r="8.9" fill="#fff" stroke="#2a2a2a" stroke-width="1.1"/>
<line x1="190.0" y1="22.0" x2="201.5" y2="16.5" stroke="#2a2a2a" stroke-width="2.0" />
<line x1="161.6" y1="21.3" x2="187.5" y2="21.0" stroke="#2a2a2a" stroke-width="1.0" />
<line x1="190.0" y1="26.5" x2="183.6" y2="32.5" stroke="#2a2a2a" stroke-width="1.0" />
<line x1="186.7" y1="191.6" x2="188.6" y2="214.1" stroke="#2a2a2a" stroke-width="1.0" />
<line x1="156.0" y1="202.5" x2="188.0" y2="214.5" stroke="#2a2a2a" stroke-width="1.0" />
<line x1="152.8" y1="212.2" x2="188.0" y2="214.8" stroke="#2a2a2a" stroke-width="1.0" />
<circle cx="200.2" cy="222.8" r="14.5" fill="#fff" stroke="#2a2a2a" stroke-width="1.1"/>
<ellipse cx="214.7" cy="206.9" rx="9.6" ry="12.2" fill="none" stroke="#222" stroke-width="1.1" transform="rotate(-30 214.7 206.9)"/>
<ellipse cx="217.5" cy="209" rx="3.2" ry="5" fill="#fff" stroke="#222" stroke-width="1.2" transform="rotate(25 217.5 209)"/>
<polygon points="189.3,220.0 207.0,223.0 206.5,226.0 189.0,223.0" fill="#444" stroke="#2a2a2a" stroke-width="1.0" stroke-linejoin="round" />
<polygon points="207.0,223.0 210.5,223.6 210.0,226.6 206.5,226.0" fill="#fff" stroke="#2a2a2a" stroke-width="0.9" stroke-linejoin="round" />
<polygon points="210.5,222.8 213.0,224.0 212.5,227.5 210.0,226.6" fill="#333" stroke="#2a2a2a" stroke-width="0.9" stroke-linejoin="round" />
<circle cx="336.7" cy="131.7" r="14.8" fill="#fff" stroke="#2a2a2a" stroke-width="1.1"/>
<ellipse cx="350.9" cy="115.8" rx="10" ry="12.8" fill="none" stroke="#222" stroke-width="1.1" transform="rotate(-30 350.9 115.8)"/>
<ellipse cx="353.6" cy="117.5" rx="3.2" ry="5" fill="#fff" stroke="#222" stroke-width="1.2" transform="rotate(25 353.6 117.5)"/>
<polygon points="324.0,128.5 343.0,131.5 342.5,134.5 323.5,131.5" fill="#444" stroke="#2a2a2a" stroke-width="1.0" stroke-linejoin="round" />
<polygon points="343.0,131.5 346.0,132.0 345.5,135.0 342.5,134.5" fill="#fff" stroke="#2a2a2a" stroke-width="0.9" stroke-linejoin="round" />
<polygon points="346.0,131.3 348.5,132.5 348.0,136.0 345.5,135.0" fill="#333" stroke="#2a2a2a" stroke-width="0.9" stroke-linejoin="round" />
<line x1="323.4" y1="130.0" x2="309.5" y2="108.5" stroke="#2a2a2a" stroke-width="1.0" />
<line x1="323.4" y1="130.0" x2="309.5" y2="138.6" stroke="#2a2a2a" stroke-width="1.0" />
<circle cx="337.6" cy="193.9" r="13.4" fill="#fff" stroke="#2a2a2a" stroke-width="1.1"/>
<polygon points="328.7,194.5 333.0,189.5 348.5,189.0 345.0,194.5" fill="#fff" stroke="#2a2a2a" stroke-width="1.2" stroke-linejoin="round" />
<polygon points="328.7,194.5 345.0,194.5 345.0,196.5 328.7,196.5" fill="#999" stroke="#2a2a2a" stroke-width="1.0" stroke-linejoin="round" />
<path d="M333,189.5 Q336,186 340,187 L348.5,189" fill="none" stroke="#222" stroke-width="1.2"/>
<line x1="342.3" y1="197.6" x2="342.3" y2="212.5" stroke="#2a2a2a" stroke-width="1.2" />
<line x1="325.6" y1="202.9" x2="278.7" y2="241.2" stroke="#2a2a2a" stroke-width="1.0" />
<line x1="327.0" y1="205.0" x2="307.0" y2="228.8" stroke="#2a2a2a" stroke-width="1.0" />
<line x1="307.0" y1="228.8" x2="278.7" y2="241.2" stroke="#2a2a2a" stroke-width="1.0" />
<g font-family="Liberation Serif" fill="#222">
<text x="139.9" y="32.5" font-size="14.5" text-anchor="middle">17</text>
<text x="220.8" y="58" font-size="14.5" text-anchor="middle">5</text>
<text x="104.5" y="100" font-size="14.5" text-anchor="middle">3</text>
<text x="112.8" y="119.5" font-size="14.5" text-anchor="middle">8</text>
<text x="242.2" y="98.8" font-size="14.5" text-anchor="middle">4</text>
<text x="212" y="118" font-size="14.5" text-anchor="middle">13</text>
<text x="171.4" y="135" font-size="14.5" text-anchor="middle">2</text>
<text x="128.1" y="154" font-size="14.5" text-anchor="middle">12</text>
<text x="133.2" y="194.5" font-size="14.5" text-anchor="middle">6</text>
<text x="112.4" y="215" font-size="14.5" text-anchor="middle">7</text>
<text x="287.3" y="164.8" font-size="14.5" text-anchor="middle">1</text>
<text x="21.9" y="156.2" font-size="14.5" text-anchor="middle">15</text>
</g>
<polygon points="456.2,74.5 524.3,65.4 524.3,91.8 456.2,105.0" fill="#fff" stroke="#2a2a2a" stroke-width="1.1" stroke-linejoin="round" />
<line x1="458.0" y1="74.3" x2="458.0" y2="92.0" stroke="#2a2a2a" stroke-width="2.0" />
<polyline points="447.8,121.9 493.3,137.7 514,135.2" fill="none" stroke="#2233ff" stroke-width="1.6"/>
<line x1="487.5" y1="115.4" x2="502.6" y2="113.5" stroke="#2233ff" stroke-width="1.6" />
<line x1="447.8" y1="121.9" x2="456.0" y2="120.0" stroke="#2233ff" stroke-width="1.6" />
<polygon points="437.2,87.0 487.7,103.7 487.7,130.2 437.2,113.5" fill="#fff" stroke="#2a2a2a" stroke-width="1.1" stroke-linejoin="round" />
<line x1="485.0" y1="103.0" x2="485.0" y2="129.5" stroke="#2a2a2a" stroke-width="1.0" />
<line x1="437.5" y1="87.5" x2="487.0" y2="103.5" stroke="#2a2a2a" stroke-width="1.8" />
<line x1="420.9" y1="103.0" x2="437.6" y2="100.5" stroke="#2a2a2a" stroke-width="1.0" />
<line x1="420.9" y1="103.0" x2="484.0" y2="117.2" stroke="#2a2a2a" stroke-width="1.0" />
<polygon points="502.6,107.8 570.6,98.4 570.6,116.3 502.6,133.3" fill="#fff" stroke="#2a2a2a" stroke-width="1.1" stroke-linejoin="round" />
<line x1="505.5" y1="107.5" x2="505.5" y2="133.0" stroke="#2a2a2a" stroke-width="1.0" />
<line x1="503.0" y1="108.0" x2="570.0" y2="98.6" stroke="#2a2a2a" stroke-width="1.6" />
<polygon points="514.0,124.8 596.0,112.5 596.0,153.1 514.0,166.3" fill="#fff" stroke="#2a2a2a" stroke-width="1.1" stroke-linejoin="round" />
<line x1="516.8" y1="124.5" x2="516.8" y2="166.0" stroke="#2a2a2a" stroke-width="1.0" />
<line x1="514.5" y1="124.5" x2="595.5" y2="112.5" stroke="#2a2a2a" stroke-width="1.8" />
<polygon points="546.0,63.5 596.0,79.5 596.0,106.0 546.0,89.9" fill="#fff" stroke="#2a2a2a" stroke-width="1.1" stroke-linejoin="round" />
<line x1="591.0" y1="78.0" x2="591.0" y2="104.5" stroke="#2a2a2a" stroke-width="1.0" />
<line x1="546.5" y1="63.8" x2="595.5" y2="79.3" stroke="#2a2a2a" stroke-width="1.8" />
<polygon points="433.9,125.5 484.0,142.5 485.0,146.5 434.0,131.0" fill="#fff" stroke="#2a2a2a" stroke-width="1.3" stroke-linejoin="round" />
<line x1="436.0" y1="127.5" x2="483.0" y2="143.5" stroke="#2a2a2a" stroke-width="1.6" />
<circle cx="435.5" cy="128.5" r="2.7" fill="#fff" stroke="#222" stroke-width="1.3"/>
<circle cx="405.1" cy="105.2" r="17.6" fill="#fff" stroke="#2a2a2a" stroke-width="1.1"/>
<polygon points="393.0,104.5 420.9,101.5 421.0,104.0 393.0,108.0" fill="#444" stroke="#2a2a2a" stroke-width="1.0" stroke-linejoin="round" />
<ellipse cx="391" cy="106.5" rx="2" ry="3.5" fill="#fff" stroke="#222" stroke-width="1.2"/>
<circle cx="446" cy="158.1" r="11.5" fill="#fff" stroke="#2a2a2a" stroke-width="1.1"/>
<polygon points="444.5,151.0 447.5,151.0 447.5,163.0 450.0,165.5 442.0,165.5 444.5,163.0" fill="#555" stroke="#2a2a2a" stroke-width="0.8" stroke-linejoin="round" />
<line x1="437.0" y1="131.0" x2="446.0" y2="146.6" stroke="#2a2a2a" stroke-width="1.0" />
<line x1="475.0" y1="145.0" x2="446.0" y2="146.6" stroke="#2a2a2a" stroke-width="1.0" />
<circle cx="501.7" cy="168.2" r="9" fill="#fff" stroke="#2a2a2a" stroke-width="1.1"/>
<line x1="501.7" y1="160.0" x2="501.7" y2="176.5" stroke="#2a2a2a" stroke-width="1.3" />
<line x1="491.3" y1="138.0" x2="501.7" y2="159.2" stroke="#2a2a2a" stroke-width="1.0" />
<line x1="504.5" y1="136.1" x2="501.7" y2="159.2" stroke="#2a2a2a" stroke-width="1.0" />
<line x1="519.6" y1="98.4" x2="561.1" y2="112.5" stroke="#2a2a2a" stroke-width="1.0" stroke-dasharray="4,2.5"/>
<line x1="513.0" y1="101.0" x2="514.0" y2="120.1" stroke="#2a2a2a" stroke-width="1.0" stroke-dasharray="3,2.5"/>
<circle cx="510.2" cy="93.7" r="8.5" fill="#fff" stroke="#2a2a2a" stroke-width="1.1"/>
<line x1="503.0" y1="91.0" x2="515.0" y2="96.0" stroke="#2a2a2a" stroke-width="2.2" />
<g font-family="Liberation Serif" fill="#222" font-style="italic">
<text x="0" y="0" font-size="16" transform="translate(505.5,80.5) rotate(26)">4x30</text>
</g>
<g font-family="Liberation Serif" fill="#222">
<text x="482.2" y="89.7" font-size="14.5" text-anchor="middle">11</text>
<text x="449.7" y="107.4" font-size="14.5" text-anchor="middle">9</text>
<text x="495" y="133" font-size="14.5" text-anchor="middle">16</text>
<text x="533.8" y="118.5" font-size="14.5" text-anchor="middle">10</text>
<text x="556.4" y="146.8" font-size="14.5" text-anchor="middle">14</text>
<text x="561.1" y="87.4" font-size="14.5" text-anchor="middle">9</text>
</g>
<line x1="289.3" y1="261.9" x2="358.7" y2="247.8" stroke="#000" stroke-width="3.5"/><polygon points="279.1,264.0 292.8,266.3 290.8,261.6 290.8,256.5" fill="#000"/><polygon points="368.9,245.7 357.2,253.2 357.2,248.1 355.2,243.4" fill="#000"/>
<line x1="385.1" y1="246.2" x2="660.6" y2="258.5" stroke="#000" stroke-width="3.5"/><polygon points="373.9,245.7 387.7,251.3 386.8,246.3 388.1,241.3" fill="#000"/><polygon points="671.8,259.0 657.6,263.4 658.9,258.4 658.0,253.4" fill="#000"/>
<line x1="275.0" y1="279.2" x2="275.0" y2="550.8" stroke="#000" stroke-width="3.4"/><polygon points="275.0,268.0 270.2,282.0 275.0,280.9 279.8,282.0" fill="#000"/><polygon points="275.0,562.0 270.2,548.0 275.0,549.1 279.8,548.0" fill="#000"/>
<g font-family="Liberation Sans" font-weight="bold" fill="#111" stroke="#111" stroke-width="0.7" stroke-linejoin="round">
<text x="0" y="0" font-size="16" textLength="57" lengthAdjust="spacingAndGlyphs" transform="translate(294.5,256.5) rotate(-11.6)">500 мм</text>
<text x="0" y="0" font-size="16" textLength="63" lengthAdjust="spacingAndGlyphs" transform="translate(486,244) rotate(2.5)">900 мм</text>
<text x="0" y="0" font-size="17" textLength="62" lengthAdjust="spacingAndGlyphs" transform="translate(270.6,378) rotate(-90)">766 мм</text>
</g>
</svg>
</body></html>
